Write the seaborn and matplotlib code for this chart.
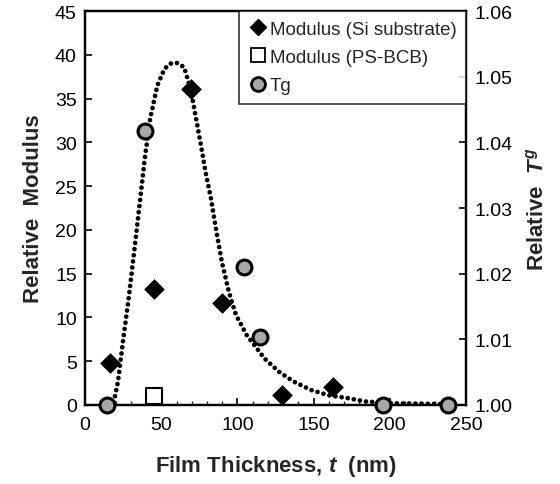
import matplotlib
matplotlib.use("Agg")
import matplotlib.pyplot as plt
import seaborn as sns
import pandas as pd
from matplotlib.lines import Line2D
from matplotlib.ticker import MultipleLocator

# ---- data ----
si_thickness = [16.2, 45.3, 69.2, 90.0, 129.0, 163.0]
si_modulus = [4.8, 13.3, 36.1, 11.6, 1.14, 2.0]

psbcb_thickness = [44.9]
psbcb_modulus = [1.07]

tg_thickness = [14.5, 39.3, 104.0, 114.5, 195.4, 238.1]
tg_relative = [1.0000, 1.0418, 1.0210, 1.0104, 1.0000, 1.0000]

fit_thickness = [18.8, 21.6, 25.1, 28.6, 32.2, 35.7, 39.2, 42.7, 47.4, 52.1,
                 56.0, 60.0, 65.0, 69.7, 72.0, 75.6, 79.1, 82.6, 86.2, 89.7,
                 94.4, 99.0, 106.0, 110.8, 117.8, 127.2, 136.6, 148.4, 160.0,
                 171.8, 183.6, 202.0, 237.6]
fit_modulus = [0.3, 2.7, 7.6, 12.2, 17.5, 22.8, 28.2, 32.7, 36.5, 38.4,
               39.0, 39.1, 38.6, 35.8, 33.5, 30.1, 26.6, 23.6, 19.8, 16.4,
               12.9, 10.3, 8.0, 6.9, 5.3, 3.8, 2.7, 1.7, 1.1,
               0.8, 0.4, 0.2, 0.1]

x_ticks = [0, 50, 100, 150, 200, 250]
y_ticks = [0, 5, 10, 15, 20, 25, 30, 35, 40, 45]
tg_ticks = [1.00, 1.01, 1.02, 1.03, 1.04, 1.05, 1.06]

sns.set_style("white")
plt.rcParams['font.family'] = ['Liberation Sans', 'DejaVu Sans']
plt.rcParams['mathtext.fontset'] = 'custom'
plt.rcParams['mathtext.it'] = 'Liberation Sans:italic:bold'
plt.rcParams['mathtext.rm'] = 'Liberation Sans:bold'
plt.rcParams['mathtext.bf'] = 'Liberation Sans:bold'

fig = plt.figure(figsize=(5.6, 4.85), dpi=100)
ax = fig.add_axes([0.152, 0.163, 0.680, 0.812])
ax2 = ax.twinx()

fit_df = pd.DataFrame({"t": fit_thickness, "m": fit_modulus})
sns.lineplot(data=fit_df, x="t", y="m", ax=ax, color="black", lw=3.4,
             linestyle=(0, (0.01, 1.3)), dash_capstyle="round",
             sort=False, zorder=2)
line = ax.get_lines()[-1]
line.set_dash_capstyle("round")

si_df = pd.DataFrame({"t": si_thickness, "m": si_modulus})
sns.scatterplot(data=si_df, x="t", y="m", ax=ax, marker="D", s=100,
                color="black", edgecolor="black", linewidth=0.5, zorder=4,
                clip_on=False)
ps_df = pd.DataFrame({"t": psbcb_thickness, "m": psbcb_modulus})
sns.scatterplot(data=ps_df, x="t", y="m", ax=ax, marker="s", s=120,
                color="white", edgecolor="black", linewidth=1.5, zorder=4,
                clip_on=False)
tg_df = pd.DataFrame({"t": tg_thickness, "g": tg_relative})
sns.scatterplot(data=tg_df, x="t", y="g", ax=ax2, marker="o", s=115,
                color="#a8a8a8", edgecolor="black", linewidth=2.2, zorder=5,
                clip_on=False)

ax.set_xlim(0, 250)
ax.set_ylim(0, 45)
ax2.set_ylim(1.00, 1.06)
ax.set_xticks(x_ticks)
ax.set_yticks(y_ticks)
ax.xaxis.set_minor_locator(MultipleLocator(10))
ax2.set_yticklabels([f"{v:.2f}" for v in tg_ticks])

for a in (ax, ax2):
    for s in a.spines.values():
        s.set_color("black")
        s.set_linewidth(1.6)
ax.tick_params(axis="both", which="major", direction="in", length=5,
               width=1.2, labelsize=14, colors="black", pad=6)
ax.tick_params(axis="x", which="major", pad=8)
ax.tick_params(axis="x", which="minor", direction="in", length=3,
               width=1.0, bottom=True)
ax.tick_params(axis="y", left=True)
ax.tick_params(axis="x", bottom=True, top=False)
ax2.tick_params(axis="y", which="major", direction="in", length=5,
                width=1.2, labelsize=14, colors="black", right=True, pad=6)

ax.set_xlabel(r"Film Thickness, $t$  (nm)", fontsize=16, fontweight="bold",
              labelpad=14)
ax.set_ylabel("Relative  Modulus", fontsize=16, fontweight="bold", labelpad=8)
ax2.set_ylabel(r"Relative  $T^g$", fontsize=16, fontweight="bold", labelpad=10)

handles = [
    Line2D([], [], marker="D", ls="none", color="black", markersize=8),
    Line2D([], [], marker="s", ls="none", markerfacecolor="white",
           markeredgecolor="black", markeredgewidth=1.3, markersize=10),
    Line2D([], [], marker="o", ls="none", markerfacecolor="#a8a8a8",
           markeredgecolor="black", markeredgewidth=2.0, markersize=10),
]
labels = ["Modulus (Si substrate)", "Modulus (PS-BCB)", "Tg"]
leg = ax2.legend(handles, labels, loc="upper right", bbox_to_anchor=(1.0, 1.0),
                 fontsize=13.5, frameon=True, fancybox=False, borderaxespad=0,
                 handletextpad=0.15, handlelength=1.0, labelspacing=0.6,
                 borderpad=0.5)
leg.get_frame().set_edgecolor("black")
leg.get_frame().set_linewidth(1.2)
leg.set_zorder(10)

fig.savefig("out.png", dpi=100)
